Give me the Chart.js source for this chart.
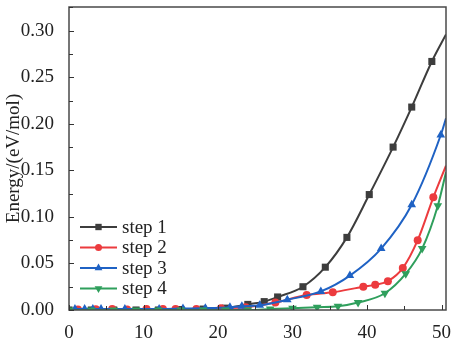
<!DOCTYPE html>
<html>
<head>
<meta charset="utf-8">
<script src="https://cdn.jsdelivr.net/npm/chart.js@4.4.1/dist/chart.umd.min.js"></script>
<style>
  html, body { margin: 0; padding: 0; background: #fff; }
  #wrap { width: 453px; height: 340px; }
</style>
</head>
<body>
<div id="wrap"><canvas id="chart" width="453" height="340"></canvas></div>
<script>
// series
const labels = ['step 1', 'step 2', 'step 3', 'step 4']

const step1X = [0, 3, 6, 9, 12, 15, 18, 21, 24, 26.2, 28, 31.4, 34.4, 37.3, 40.3, 43.5, 46.0, 48.7, 50.6]
const step1Y = [0, 0, 0, 0, 0, 0.0005, 0.001, 0.002, 0.006, 0.009, 0.014, 0.025, 0.046, 0.078, 0.124, 0.175, 0.218, 0.267, 0.296]

const step2X = [1.2, 3.6, 5.8, 7.8, 10.4, 12.6, 14.3, 17.1, 20.4, 23.7, 27.7, 31.9, 35.4, 39.5, 41.1, 42.8, 44.8, 46.8, 48.9, 50.6]
const step2Y = [0.0005, 0.0008, 0.001, 0.0006, 0.001, 0.0012, 0.001, 0.001, 0.002, 0.003, 0.008, 0.016, 0.019, 0.025, 0.027, 0.031, 0.045, 0.075, 0.121, 0.155]

const step3X = [0.8, 2.1, 3.2, 4.3, 7.5, 12.1, 15.3, 18.3, 21.6, 23.2, 25.6, 29.3, 33.8, 37.7, 41.9, 46.0, 49.9, 50.6]
const step3Y = [0.001, 0.001, 0.001, 0.001, 0.001, 0.001, 0.0015, 0.002, 0.003, 0.004, 0.005, 0.011, 0.020, 0.037, 0.066, 0.113, 0.188, 0.206]

const step4X = [0, 3, 6, 9, 12, 15, 18, 21, 24, 27, 30, 33.3, 36.1, 38.8, 42.4, 45.2, 47.4, 49.5, 50.6]
const step4Y = [0, 0, 0, 0, 0, 0, 0, 0, 0, 0.001, 0.002, 0.003, 0.004, 0.008, 0.018, 0.039, 0.066, 0.112, 0.148]

const xTicks = [0, 10, 20, 30, 40, 50]
const yTicks = [0, 0.05, 0.10, 0.15, 0.20, 0.25, 0.30]

const colors = ['#3d3d3d', '#ec3b3e', '#1f62c4', '#2f9f5c']
const shapes = ['rect', 'circle', 'triangle', 'triangle']
const rots = [0, 0, 0, 180]
const serif = "'Liberation Serif', 'Times New Roman', serif"

function pts(xs, ys) {
    return xs.map((x, i) => ({ x: x, y: ys[i] }))
}

function markerSize(shape) {
    if (shape === 'rect') return 5
    if (shape === 'triangle') return 5
    return 4
}

const series = [pts(step1X, step1Y), pts(step2X, step2Y), pts(step3X, step3Y), pts(step4X, step4Y)]

// frame + inward ticks like the origin plot
const framePlugin = {
    id: 'frame',
    afterDraw(chart) {
        const { ctx, chartArea: a, scales } = chart
        ctx.save()
        ctx.strokeStyle = '#4a4a4a'
        ctx.lineWidth = 1.5
        ctx.strokeRect(a.left, a.top, a.right - a.left, a.bottom - a.top)
        ctx.lineWidth = 1
        ctx.strokeStyle = '#333'
        ctx.beginPath()
        for (let v = 0; v <= 50; v += 5) {
            const px = Math.round(scales.x.getPixelForValue(v)) + 0.5
            const len = v % 10 === 0 ? 5 : 4
            ctx.moveTo(px, a.bottom)
            ctx.lineTo(px, a.bottom - len)
        }
        for (let i = 0; i <= 13; i++) {
            const v = i * 0.025
            const py = Math.round(scales.y.getPixelForValue(v)) + 0.5
            const len = i % 2 === 0 ? 5 : 4
            ctx.moveTo(a.left, py)
            ctx.lineTo(a.left + len, py)
        }
        ctx.stroke()
        ctx.restore()
    }
}

// legend drawn inside the plot, bottom left
const legendPlugin = {
    id: 'insideLegend',
    afterDraw(chart) {
        const ctx = chart.ctx
        ctx.save()
        chart.data.datasets.forEach((ds, i) => {
            const y = 227 + i * 20.5
            ctx.strokeStyle = ds.borderColor
            ctx.lineWidth = 2
            ctx.beginPath()
            ctx.moveTo(80, y)
            ctx.lineTo(117, y)
            ctx.stroke()
            ctx.fillStyle = ds.borderColor
            Chart.helpers.drawPoint(ctx, {
                pointStyle: ds.pointStyle,
                radius: markerSize(ds.pointStyle) - 0.5,
                rotation: ds.pointRotation || 0,
                borderWidth: 0
            }, 98.5, y)
            ctx.fillStyle = '#222'
            ctx.font = '19px ' + serif
            ctx.textBaseline = 'middle'
            ctx.fillText(ds.label, 122, y + 1)
        })
        ctx.restore()
    }
}

const datasets = series.map((data, i) => ({
    label: labels[i],
    data: data,
    borderColor: colors[i],
    backgroundColor: colors[i],
    pointBackgroundColor: colors[i],
    pointBorderColor: colors[i],
    pointBorderWidth: 0,
    pointStyle: shapes[i],
    pointRotation: rots[i],
    pointRadius: c => c.dataIndex === data.length - 1 ? 0 : markerSize(shapes[i]),
    borderWidth: 2,
    cubicInterpolationMode: 'monotone',
    clip: 0,
    order: 4 - i
}))

new Chart(document.getElementById('chart'), {
    type: 'line',
    data: { datasets: datasets },
    plugins: [framePlugin, legendPlugin],
    options: {
        responsive: false,
        animation: false,
        layout: { padding: { top: 7, right: 7, left: 0, bottom: 0 } },
        plugins: {
            legend: { display: false },
            tooltip: { enabled: false }
        },
        scales: {
            x: {
                type: 'linear',
                min: 0,
                max: 50.6,
                afterFit(scale) {
                    scale.height = 30
                    scale.paddingLeft = 0
                    scale.paddingRight = 0
                },
                afterBuildTicks(scale) { scale.ticks = xTicks.map(v => ({ value: v })) },
                grid: { display: false },
                border: { display: false },
                ticks: {
                    color: '#222',
                    padding: 4,
                    maxRotation: 0,
                    font: { family: serif, size: 19 },
                    callback: v => String(v)
                }
            },
            y: {
                type: 'linear',
                min: 0,
                max: 0.3255,
                afterFit(scale) {
                    scale.width = 69
                    scale.paddingTop = 0
                    scale.paddingBottom = 0
                },
                afterBuildTicks(scale) { scale.ticks = yTicks.map(v => ({ value: v })) },
                grid: { display: false },
                border: { display: false },
                title: {
                    display: true,
                    text: 'Energy/(eV/mol)',
                    color: '#222',
                    padding: { top: 3, bottom: 0 },
                    font: { family: serif, size: 19 }
                },
                ticks: {
                    color: '#222',
                    padding: 7,
                    font: { family: serif, size: 19 },
                    callback: v => Number(v).toFixed(2)
                }
            }
        }
    }
})
</script>
</body>
</html>
